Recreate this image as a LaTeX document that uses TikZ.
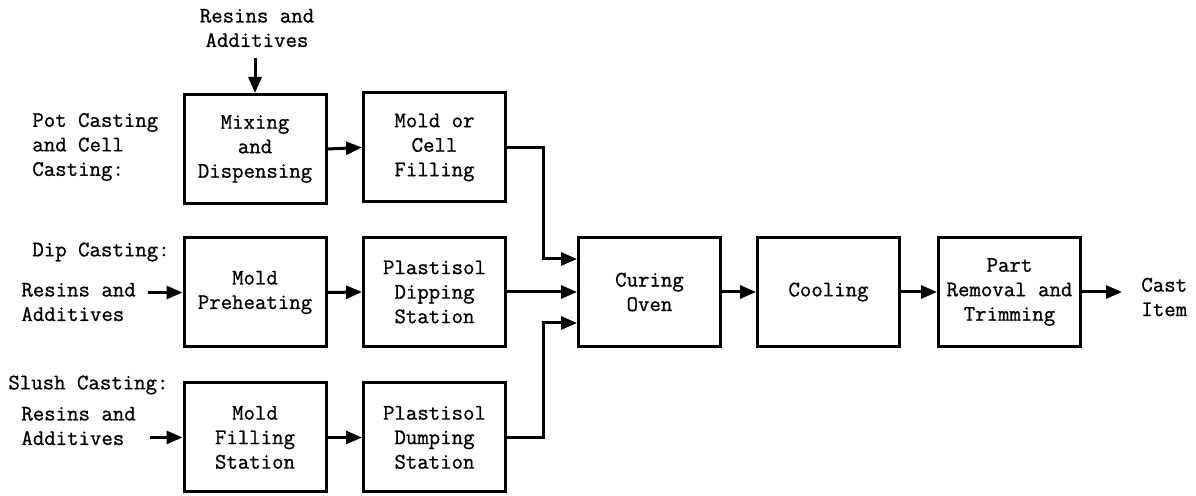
\documentclass[tikz,border=0pt]{standalone}
\usepackage{fontspec}
\newfontfamily\twfont{Latin Modern Mono}[FakeBold=0.9]
\usetikzlibrary{arrows.meta}
\begin{document}
\begin{tikzpicture}[x=0.5pt,y=-0.5pt,
  every node/.style={font=\twfont\fontsize{11.1pt}{12.25pt}\selectfont},
  box/.style={draw,line width=1.5pt,minimum width=71pt,minimum height=54.5pt,align=center,inner sep=1pt},
  lbl/.style={align=left,anchor=west,inner sep=0pt},
  arr/.style={line width=1.5pt,-{Triangle[length=8pt,width=6.5pt]}}]
\useasboundingbox (0,0) rectangle (1196,496);
% boxes
\node[box] (mix) at (255,149) {Mixing\\and\\Dispensing};
\node[box] (mcf) at (434.5,147.5) {Mold or\\Cell\\Filling};
\node[box] (mph) at (255,292.5) {Mold\\Preheating};
\node[box] (pds) at (434.5,292) {Plastisol\\Dipping\\Station};
\node[box] (mfs) at (255,437.5) {Mold\\Filling\\Station};
\node[box] (pdu) at (434.5,437.5) {Plastisol\\Dumping\\Station};
\node[box] (cur) at (649.5,292) {Curing\\Oven};
\node[box] (coo) at (828.5,292) {Cooling};
\node[box] (prt) at (1009.5,292) {Part\\Removal and\\Trimming};
% labels
\node[align=center,inner sep=0pt] (rtop) at (257,28) {Resins and\\Additives};
\node[lbl] (lpot) at (32,147) {Pot Casting\\and Cell\\Casting:};
\node[lbl] (ldip) at (32,252) {Dip Casting:};
\node[lbl] (rdip) at (21,302) {Resins and\\Additives};
\node[lbl] (lslu) at (8,385) {Slush Casting:};
\node[lbl] (rslu) at (21,426) {Resins and\\Additives};
\node[lbl] (cast) at (1141,297) {Cast\\Item};
% input coordinates
\coordinate (intop) at (255,58);
\coordinate (indip) at (148,292.5);
\coordinate (inslu) at (150,437.5);
\coordinate (outend) at (1122,292);
% connectors
\draw[arr] (intop) -- (mix.north);
\draw[arr] (mix.east) -- (mcf.west);
\draw[arr] (indip) -- (mph.west);
\draw[arr] (mph.east) -- (pds.west);
\draw[arr] (inslu) -- (mfs.west);
\draw[arr] (mfs.east) -- (pdu.west);
\draw[arr] (mcf.east) -- ++(36,0) |- ([yshift=16.5pt]cur.west);
\draw[arr] (pds.east) -- (cur.west);
\draw[arr] (pdu.east) -- ++(36,0) |- ([yshift=-15.5pt]cur.west);
\draw[arr] (cur.east) -- (coo.west);
\draw[arr] (coo.east) -- (prt.west);
\draw[arr] (prt.east) -- (outend);
\end{tikzpicture}
\end{document}
